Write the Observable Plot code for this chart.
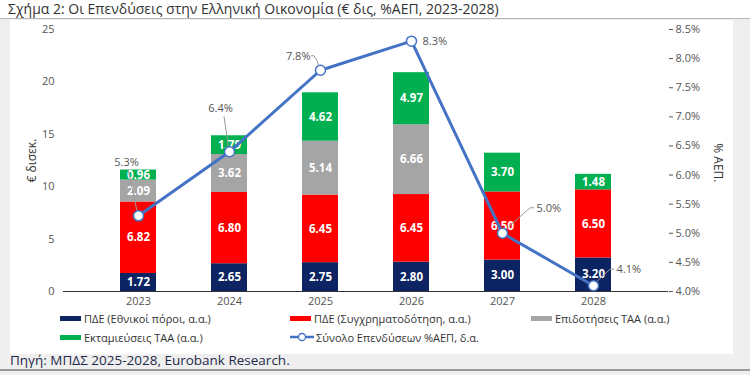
<!DOCTYPE html>
<html>
<head>
<meta charset="utf-8">
<script src="https://cdn.jsdelivr.net/npm/d3@7"></script>
<script src="https://cdn.jsdelivr.net/npm/@observablehq/plot@0.6"></script>
<style>
  html, body { margin: 0; padding: 0; }
  body { width: 750px; height: 375px; background: #efefef; position: relative; overflow: hidden; font-family: "Open Sans", "Noto Sans", sans-serif; }
  #title { position: absolute; left: 0; top: 0; width: 750px; height: 18px; background: #fff; border-bottom: 1.5px solid #b5b5b5; }
  #title span { position: absolute; left: 8px; top: 0px; font-size: 14px; line-height: 17px; color: #333; white-space: nowrap; }
  #panel { position: absolute; left: 10px; top: 20px; width: 723px; height: 334px; background: #fff; }
  #chart { position: absolute; left: 0; top: 0; }
  #legend { position: absolute; left: 0; top: 290px; width: 723px; font-size: 11px; color: #333; }
  .item { position: absolute; display: flex; align-items: center; white-space: nowrap; height: 16px; }
  .sw { width: 21px; height: 5px; margin-right: 3px; }
  #caption { position: absolute; left: 10px; top: 353px; font-size: 13.5px; line-height: 15px; color: #1f2a4a; white-space: nowrap; }
  #rule { position: absolute; left: 0; top: 369px; width: 750px; height: 2px; background: #999; }
</style>
</head>
<body>
<div id="title"><span>Σχήμα 2: Οι Επενδύσεις στην Ελληνική Οικονομία (€ δις, %ΑΕΠ, 2023-2028)</span></div>
<div id="panel">
  <div id="chart"></div>
  <div id="legend"></div>
</div>
<div id="caption">Πηγή: ΜΠΔΣ 2025-2028, Eurobank Research.</div>
<div id="rule"></div>
<script>
// ---- data ----
const years = ["2023", "2024", "2025", "2026", "2027", "2028"];
const seriesNames = [
  "ΠΔΕ (Εθνικοί πόροι, α.α.)",
  "ΠΔΕ (Συγχρηματοδότηση, α.α.)",
  "Επιδοτήσεις ΤΑΑ (α.α.)",
  "Εκταμιεύσεις ΤΑΑ (α.α.)"
];
const pdeNational = [1.72, 2.65, 2.75, 2.80, 3.00, 3.20];
const pdeCofinanced = [6.82, 6.80, 6.45, 6.45, 6.50, 6.50];
const rrfGrants = [2.09, 3.62, 5.14, 6.66, 0, 0];
const rrfDisbursements = [0.96, 1.79, 4.62, 4.97, 3.70, 1.48];
const lineName = "Σύνολο Επενδύσεων %ΑΕΠ, δ.α.";
const totalPctGDP = [5.3, 6.4, 7.8, 8.3, 5.0, 4.1];
const leftTicks = [0, 5, 10, 15, 20, 25];
const rightTicks = [4.0, 4.5, 5.0, 5.5, 6.0, 6.5, 7.0, 7.5, 8.0, 8.5];

// ---- styles ----
const colors = ["#0c2461", "#ff0000", "#a5a5a5", "#00b050"];
const lineColor = "#4472c4";

// map right axis (% of GDP, 4.0..8.5) onto left axis (0..25)
const pMin = 4.0, pMax = 8.5, yMax = 25;
const toY = p => (p - pMin) / (pMax - pMin) * yMax;
const fromY = y => pMin + y / yMax * (pMax - pMin);

const valueSets = [pdeNational, pdeCofinanced, rrfGrants, rrfDisbursements];
const stacked = [];
years.forEach((yr, i) => {
  valueSets.forEach((vals, s) => stacked.push({year: yr, series: seriesNames[s], value: vals[i]}));
});
const linePts = years.map((yr, i) => ({year: yr, pct: totalPctGDP[i], y: toY(totalPctGDP[i])}));

// label placement (pixel offsets from the marker) and leader lines
const labelLayout = [
  {dx: -12, dy: -53, anchor: "middle", lead: [[-10, -46]]},
  {dx: -9, dy: -43, anchor: "middle", lead: [[-5, -35]]},
  {dx: -10, dy: -14, anchor: "end", lead: [[-3, -9], [-6, -14], [-9, -14]]},
  {dx: 11, dy: 0, anchor: "start", lead: null},
  {dx: 34, dy: -25, anchor: "start", lead: [[28, -25], [32, -25]]},
  {dx: 23, dy: -16, anchor: "start", lead: [[17, -16], [21, -16]]}
];

const font = "'Open Sans', 'Noto Sans', sans-serif";

const leaderMark = (index, scales) => {
  const g = document.createElementNS("http://www.w3.org/2000/svg", "g");
  const bw = scales.x.bandwidth ? scales.x.bandwidth() : 0;
  linePts.forEach((d, i) => {
    const L = labelLayout[i];
    if (!L.lead) return;
    const mx = scales.x(d.year) + bw / 2, my = scales.y(d.y);
    const pts = [[mx, my], ...L.lead.map(([a, b]) => [mx + a, my + b])];
    const p = document.createElementNS("http://www.w3.org/2000/svg", "polyline");
    p.setAttribute("points", pts.map(q => q.join(",")).join(" "));
    p.setAttribute("fill", "none");
    p.setAttribute("stroke", "#9a9a9a");
    p.setAttribute("stroke-width", "1");
    g.appendChild(p);
  });
  return g;
};

const labelMarks = linePts.map((d, i) => Plot.text([d], {
  x: "year", y: "y", text: dd => dd.pct.toFixed(1) + "%",
  dx: labelLayout[i].dx, dy: labelLayout[i].dy, textAnchor: labelLayout[i].anchor,
  fill: "#555", fontSize: 11
}));

const plot = Plot.plot({
  width: 723,
  height: 291,
  marginLeft: 53,
  marginRight: 65,
  marginTop: 9,
  marginBottom: 20,
  style: {fontFamily: font, fontSize: "11px", color: "#555", background: "transparent"},
  x: {domain: years, padding: 0.6, label: null},
  y: {domain: [0, yMax], label: null},
  color: {domain: seriesNames, range: colors},
  marks: [
    Plot.barY(stacked, {x: "year", y: "value", fill: "series", order: seriesNames}),
    Plot.text(stacked.filter(d => d.value > 0), Plot.stackY({
      x: "year", y: "value", z: "series", order: seriesNames,
      text: d => d.value.toFixed(2), fill: "white", fontWeight: "bold", fontSize: 11.5
    })),
    Plot.axisX({tickSize: 0, tickPadding: 6, fill: "#555", fontSize: 11, label: null}),
    Plot.axisY(leftTicks, {anchor: "left", tickSize: 0, tickPadding: 9, fill: "#555", fontSize: 11, label: null}),
    Plot.axisY(rightTicks.map(toY), {anchor: "right", tickSize: 4, tickPadding: 3, fill: "#555", fontSize: 11,
      tickFormat: d => fromY(d).toFixed(1) + "%", label: null}),
    Plot.ruleX([0], {frameAnchor: "left", stroke: "#333", strokeWidth: 1}),
    Plot.ruleY([0], {stroke: "#333", strokeWidth: 1.2}),
    Plot.ruleX([0], {frameAnchor: "right", stroke: "#333", strokeWidth: 1}),
    Plot.text(["€ δισεκ."], {frameAnchor: "left", rotate: -90, dx: -31, dy: 22, fill: "#333", fontSize: 12}),
    Plot.text(["% ΑΕΠ."], {frameAnchor: "right", rotate: 90, dx: 49, dy: 22, fill: "#333", fontSize: 12}),
    leaderMark,
    Plot.line(linePts, {x: "year", y: "y", stroke: lineColor, strokeWidth: 3}),
    Plot.dot(linePts, {x: "year", y: "y", r: 5, fill: "white", stroke: lineColor, strokeWidth: 1.5}),
    ...labelMarks
  ]
});
document.getElementById("chart").appendChild(plot);

// ---- legend ----
const legend = document.getElementById("legend");
const legendItems = [
  {name: seriesNames[0], color: colors[0], x: 50, y: 0},
  {name: seriesNames[1], color: colors[1], x: 280, y: 0},
  {name: seriesNames[2], color: colors[2], x: 521, y: 0},
  {name: seriesNames[3], color: colors[3], x: 50, y: 19},
  {name: lineName, color: lineColor, x: 280, y: 19, line: true}
];
legendItems.forEach(it => {
  const el = document.createElement("div");
  el.className = "item";
  el.style.left = it.x + "px";
  el.style.top = it.y + "px";
  if (it.line) {
    el.innerHTML = `<svg width="24" height="10" style="margin-right:2px"><line x1="0" y1="5" x2="24" y2="5" stroke="${it.color}" stroke-width="2.5"/><circle cx="12" cy="5" r="3.5" fill="white" stroke="${it.color}" stroke-width="1.3"/></svg><span>${it.name}</span>`;
  } else {
    el.innerHTML = `<div class="sw" style="background:${it.color}"></div><span>${it.name}</span>`;
  }
  legend.appendChild(el);
});
</script>
</body>
</html>
